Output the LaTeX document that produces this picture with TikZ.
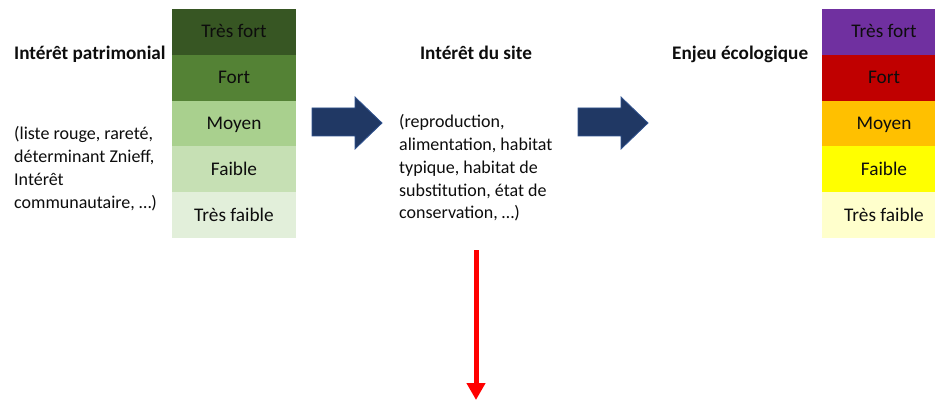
\documentclass[tikz,border=0pt]{standalone}
\usepackage{fontspec}
\setmainfont{Carlito}
\usetikzlibrary{arrows.meta}
\definecolor{gA}{HTML}{375623}
\definecolor{gB}{HTML}{548235}
\definecolor{gC}{HTML}{A9D08E}
\definecolor{gD}{HTML}{C6E0B4}
\definecolor{gE}{HTML}{E2EFDA}
\definecolor{eA}{HTML}{7030A0}
\definecolor{eB}{HTML}{C00000}
\definecolor{eC}{HTML}{FFC000}
\definecolor{eD}{HTML}{FFFF00}
\definecolor{eE}{HTML}{FFFFCC}
\definecolor{navy}{HTML}{203864}
\definecolor{navyedge}{HTML}{2F528F}
\definecolor{txt}{HTML}{0D0D0D}
\begin{document}
\begin{tikzpicture}[x=1pt,y=-1pt,
  every node/.style={text=txt},
  cell/.style={anchor=north west, minimum width=124pt, minimum height=45.8pt,
    inner sep=0pt, outer sep=0pt, text height=12pt, text depth=0pt,
    font=\fontsize{19.3}{23}\selectfont},
  title/.style={inner sep=0pt, font=\fontsize{19.2}{23}\selectfont\bfseries},
  note/.style={inner sep=0pt, anchor=base west, font=\fontsize{18}{22.7}\selectfont},
  blockarrow/.style={fill=navy, draw=navyedge, line width=0.8pt, line join=miter},
  redarrow/.style={draw=red, line width=5pt, -{Triangle[width=18pt,length=17pt]}}
]
\useasboundingbox (0,0) rectangle (935,401);
\clip (0,0) rectangle (935,401);

% left scale
\node[cell, fill=gA] (l1) at (172,9)     {Très fort};
\node[cell, fill=gB] (l2) at (172,54.8)  {Fort};
\node[cell, fill=gC] (l3) at (172,100.6) {Moyen};
\node[cell, fill=gD] (l4) at (172,146.4) {Faible};
\node[cell, fill=gE] (l5) at (172,192.2) {Très faible};

% right scale
\node[cell, fill=eA] (r1) at (822,9)     {Très fort};
\node[cell, fill=eB] (r2) at (822,54.8)  {Fort};
\node[cell, fill=eC] (r3) at (822,100.6) {Moyen};
\node[cell, fill=eD] (r4) at (822,146.4) {Faible};
\node[cell, fill=eE] (r5) at (822,192.2) {Très faible};

% titles
\node[title, anchor=base west] (t1) at (14,60) {Intérêt patrimonial};
\node[title, anchor=base] (t2) at (476,60) {Intérêt du site};
\node[title, anchor=base west] (t3) at (672,60) {Enjeu écologique};

% notes
\node[note] (n1) at (14,140) {\parbox[t]{150pt}{\raggedright
  (liste rouge, rareté,\\ déterminant Znieff,\\ Intérêt\\ communautaire, …)}};
\node[note] (n2) at (399,128) {\parbox[t]{170pt}{\raggedright
  (reproduction,\\ alimentation, habitat\\ typique, habitat de\\ substitution, état de\\ conservation, …)}};

% block arrows
\draw[blockarrow] (312,108) -- (355,108) -- (355,97) -- (382,123) -- (355,149) -- (355,136) -- (312,136) -- cycle;
\draw[blockarrow] (578,108) -- (621,108) -- (621,97) -- (648,123) -- (621,149) -- (621,136) -- (578,136) -- cycle;

% red arrow
\coordinate (rs) at (476,250);
\coordinate (re) at (476,400);
\draw[redarrow] (rs) -- (re);
\end{tikzpicture}
\end{document}
